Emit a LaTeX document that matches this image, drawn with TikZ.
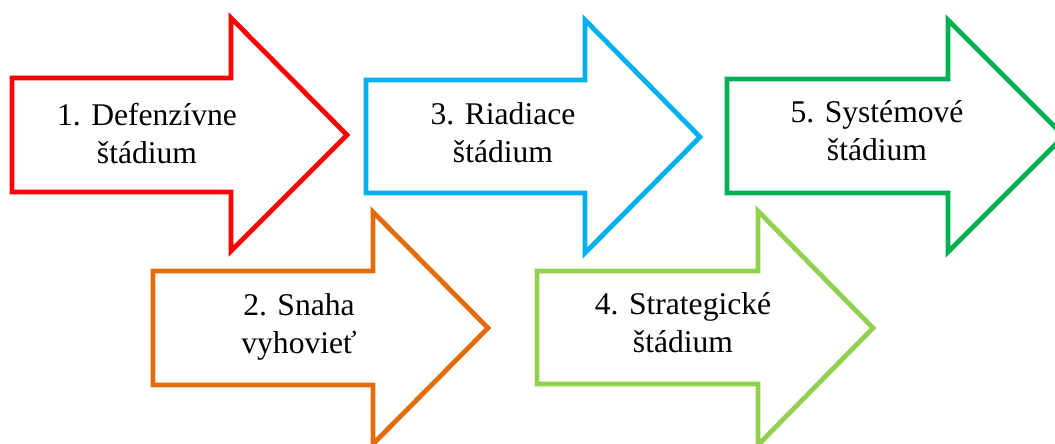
\documentclass[tikz,border=0pt]{standalone}
\usepackage{fontspec}
\setmainfont{Liberation Serif}
\definecolor{cRed}{HTML}{FF0000}
\definecolor{cOrange}{HTML}{E46C0A}
\definecolor{cBlue}{HTML}{00B0F0}
\definecolor{cLime}{HTML}{92D050}
\definecolor{cGreen}{HTML}{00B050}
\tikzset{
  bigarrow/.style={line width=3.6pt, line join=miter, fill=white},
  stagetext/.style={align=center, anchor=base, inner sep=0pt, font=\fontsize{23.7}{28.5}\selectfont}
}
\begin{document}
\begin{tikzpicture}[x=0.75pt,y=-0.75pt]
\useasboundingbox (0,0) rectangle (1055,443);
% top row: body 78-192, head 18-250, tip y 135
\draw[bigarrow,draw=cRed] (12,78) -- (231,78) -- (231,18) -- (347,135) -- (231,251) -- (231,192) -- (12,192) -- cycle;
\draw[bigarrow,draw=cBlue] (366,80) -- (585,80) -- (585,20) -- (700,137) -- (585,253) -- (585,193) -- (366,193) -- cycle;
\draw[bigarrow,draw=cGreen] (727,79) -- (948,79) -- (948,20) -- (1064,136) -- (948,252) -- (948,193) -- (727,193) -- cycle;
% bottom row: body 271-385, head 212-444, tip y 328
\draw[bigarrow,draw=cOrange] (153,271) -- (373,271) -- (373,212) -- (488,328) -- (373,444) -- (373,385) -- (153,385) -- cycle;
\draw[bigarrow,draw=cLime] (537,271) -- (758,271) -- (758,211) -- (873,328) -- (758,445) -- (758,384) -- (537,384) -- cycle;
% texts (anchor = baseline of the last line)
\node[stagetext] (t1) at (147,163) {1. Defenzívne\\štádium};
\node[stagetext] (t3) at (503,162) {3. Riadiace\\štádium};
\node[stagetext] (t5) at (877,160) {5. Systémové\\štádium};
\node[stagetext] (t2) at (299,353) {2. Snaha\\vyhovieť};
\node[stagetext] (t4) at (683,352) {4. Strategické\\štádium};
\end{tikzpicture}
\end{document}
